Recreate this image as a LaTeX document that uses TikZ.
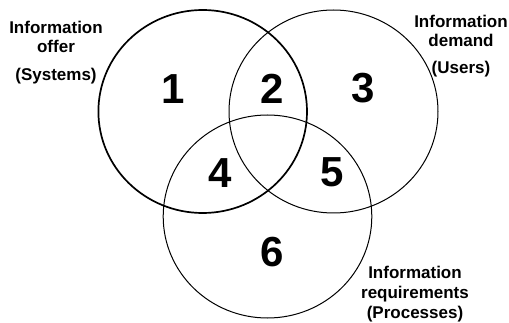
\documentclass[tikz,border=0pt]{standalone}
\usepackage{fontspec}
\setmainfont{Liberation Sans}
\begin{document}
\begin{tikzpicture}[x=1pt,y=-1pt,
  setring/.style={draw=black,line width=1pt},
  mainring/.style={draw=black,line width=1.7pt},
  regionnum/.style={anchor=base,inner sep=0pt,font=\fontsize{42}{42}\selectfont\bfseries},
  setlabel/.style={anchor=base,inner sep=0pt,align=center,font=\fontsize{17}{19.5}\selectfont\bfseries}]
  \useasboundingbox (0,0) rectangle (509,323);

  % the three overlapping sets
  \draw[mainring] (202.7,111.5) ellipse [x radius=104.3, y radius=101.5];
  \draw[setring] (333.5,111.5) ellipse [x radius=104.5, y radius=101.5];
  \draw[setring] (267.5,216.5) ellipse [x radius=104.3, y radius=101.5];

  % region numbers
  \node[regionnum] (n1) at (173,104) {1};
  \node[regionnum] (n2) at (272,104) {2};
  \node[regionnum] (n3) at (363,103) {3};
  \node[regionnum] (n4) at (220,188) {4};
  \node[regionnum] (n5) at (332,187) {5};
  \node[regionnum] (n6) at (272,267) {6};

  % set captions (anchored on the baseline of their last line)
  \node[setlabel] (offer) at (56,81) {Information\\offer\\[8.5pt](Systems)};
  \node[setlabel] (demand) at (461,74) {Information\\demand\\[7.5pt](Users)};
  \node[setlabel] (req) at (415,318) {Information\\requirements\\[0.5pt](Processes)};
\end{tikzpicture}
\end{document}
